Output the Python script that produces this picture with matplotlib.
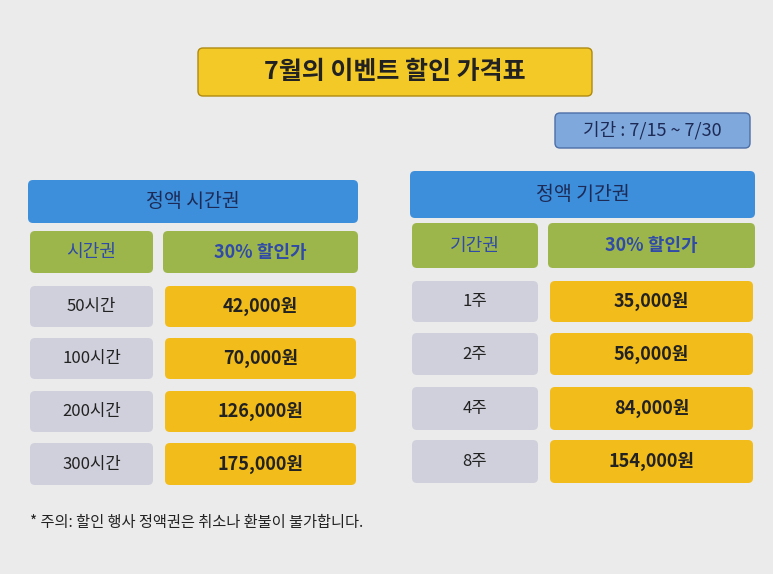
import matplotlib
matplotlib.use("Agg")
import matplotlib.pyplot as plt
from matplotlib.patches import FancyBboxPatch
from matplotlib import font_manager as fm

names = sorted(set(f.name for f in fm.fontManager.ttflist if "CJK" in f.name))
fam = ["Noto Sans CJK KR"] + names + ["DejaVu Sans"]
plt.rcParams["font.family"] = fam

title = "7월의 이벤트 할인 가격표"
period = "기간 : 7/15 ~ 7/30"
left_header = "정액 시간권"
left_cols = ["시간권", "30% 할인가"]
left_items = ["50시간", "100시간", "200시간", "300시간"]
left_prices = ["42,000원", "70,000원", "126,000원", "175,000원"]
right_header = "정액 기간권"
right_cols = ["기간권", "30% 할인가"]
right_items = ["1주", "2주", "4주", "8주"]
right_prices = ["35,000원", "56,000원", "84,000원", "154,000원"]
note = "* 주의: 할인 행사 정액권은 취소나 환불이 불가합니다."

W, H = 773, 574
fig = plt.figure(figsize=(W/100, H/100), dpi=100)
fig.patch.set_facecolor("#ebebeb")
ax = fig.add_axes([0, 0, 1, 1])
ax.set_xlim(0, W); ax.set_ylim(H, 0); ax.axis("off")

BLUE = "#3d8fdc"; GREEN = "#9db64c"; GREY = "#cfd0db"; YEL = "#f2bc1b"

def box(x0, y0, x1, y1, fc, text, color="#222222", size=12, weight="bold", ec="none"):
    ax.add_patch(FancyBboxPatch((x0, y0), x1-x0, y1-y0,
                 boxstyle="round,pad=0,rounding_size=5", fc=fc, ec=ec, lw=1))
    ax.text((x0+x1)/2, (y0+y1)/2, text, ha="center", va="center",
            color=color, fontsize=size, fontweight=weight)

box(198, 48, 592, 96, "#f3c928", title, size=18, ec="#b08a10")
box(555, 113, 750, 148, "#7fa8dc", period, color="#1d2a55", size=13, weight="normal", ec="#4c6fa8")

def table(x0, x1, xs, y_head, y_sub, rows_y, header, cols, items, prices):
    box(x0, y_head[0], x1, y_head[1], BLUE, header, color="#1d2a55", size=14, weight="normal")
    box(x0+2, y_sub[0], xs, y_sub[1], GREEN, cols[0], color="#2f4aa8", size=13, weight="normal")
    box(xs+10, y_sub[0], x1, y_sub[1], GREEN, cols[1], color="#2f4aa8", size=13)
    for (a, b), it, pr in zip(rows_y, items, prices):
        box(x0+2, a, xs, b, GREY, it, size=12, weight="normal")
        box(xs+12, a, x1 - 2, b, YEL, pr, size=13)

table(28, 358, 153, (180, 223), (231, 273),
      [(286, 327), (338, 379), (391, 432), (443, 485)],
      left_header, left_cols, left_items, left_prices)
table(410, 755, 538, (171, 218), (223, 268),
      [(281, 322), (333, 375), (387, 430), (440, 483)],
      right_header, right_cols, right_items, right_prices)

ax.text(30, 522, note, ha="left", va="center", fontsize=11, color="#222222")
fig.savefig("out.png", dpi=100, facecolor=fig.get_facecolor())
